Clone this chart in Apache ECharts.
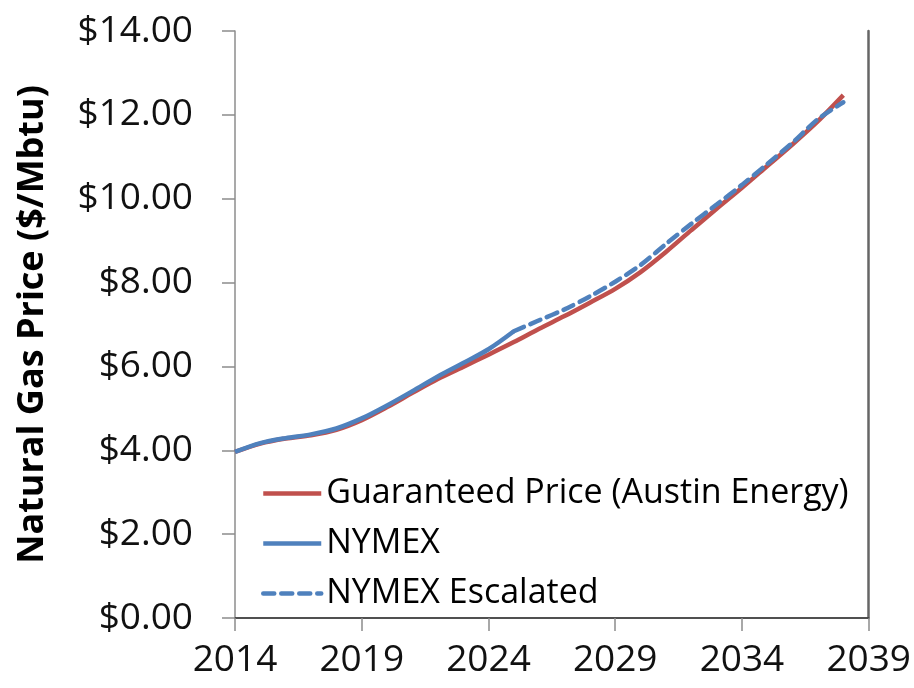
<!DOCTYPE html>
<html>
<head>
<meta charset="utf-8">
<title>Natural Gas Price</title>
<script src="https://cdn.jsdelivr.net/npm/echarts@6/dist/echarts.min.js"></script>
<style>
html, body {
  margin: 0;
  padding: 0;
  background: #fff;
}
#chart {
  width: 914px;
  height: 688px;
}
</style>
</head>
<body>
<div id="chart"></div>
<script>
// years on the x axis (2039 only carries the last tick)
const years = []
for (let y = 2014; y <= 2039; y++) years.push(String(y))

// values, $/Mbtu
const guaranteed = [3.96, 4.16, 4.28, 4.36, 4.49, 4.72, 5.03, 5.37, 5.70, 5.99, 6.28, 6.58,
  6.90, 7.20, 7.52, 7.85, 8.25, 8.73, 9.25, 9.76, 10.26, 10.78, 11.30, 11.85, 12.47]
const nymex = [3.96, 4.17, 4.29, 4.38, 4.52, 4.76, 5.07, 5.41, 5.76, 6.08, 6.41, 6.84]
const nymexEscalated = [null, null, null, null, null, null, null, null, null, null, null, 6.84,
  7.10, 7.36, 7.67, 8.02, 8.42, 8.92, 9.40, 9.86, 10.33, 10.83, 11.34, 11.90, 12.30]

const yTicks = { min: 0, max: 14, interval: 2 }

const font = 'Open Sans'
const red = '#c0504d'
const blue = '#4f81bd'

const myChart = echarts.init(document.getElementById('chart'), null, { renderer: 'canvas' })
const option = {
  animation: false,
  backgroundColor: '#fff',
  grid: {
    left: 235,
    right: 44,
    top: 31,
    bottom: 70,
    containLabel: false
  },
  legend: {
    orient: 'vertical',
    left: 256,
    top: 470,
    itemWidth: 58,
    itemHeight: 14,
    itemGap: 13,
    itemStyle: { opacity: 0 },
    lineStyle: { width: 4.5 },
    textStyle: {
      fontFamily: font,
      fontSize: 34,
      color: '#000',
      lineHeight: 37
    },
    data: ['Guaranteed Price (Austin Energy)', 'NYMEX', 'NYMEX Escalated']
  },
  xAxis: [
    {
      type: 'category',
      data: years,
      boundaryGap: false,
      axisLine: { lineStyle: { color: '#8c8c8c', width: 1.5 } },
      axisTick: { show: true, interval: 4, length: 13, lineStyle: { color: '#8c8c8c', width: 1.5 } },
      axisLabel: {
        interval: 4,
        margin: 24,
        fontFamily: font,
        fontSize: 37,
        color: '#111'
      },
      splitLine: { show: false }
    },
    {
      type: 'category',
      data: years,
      boundaryGap: false,
      position: 'top',
      axisLine: { lineStyle: { color: '#333', width: 1.5 } },
      axisTick: { show: false },
      axisLabel: { show: false },
      splitLine: { show: false }
    }
  ],
  yAxis: [
    {
      type: 'value',
      min: yTicks.min,
      max: yTicks.max,
      interval: yTicks.interval,
      name: 'Natural Gas Price ($/Mbtu)',
      nameLocation: 'middle',
      nameGap: 184,
      nameTextStyle: {
        fontFamily: font,
        fontSize: 36,
        fontWeight: 'bold',
        color: '#000'
      },
      axisLine: { show: true, lineStyle: { color: '#8c8c8c', width: 1.5 } },
      axisTick: { show: true, length: 13, lineStyle: { color: '#8c8c8c', width: 1.5 } },
      axisLabel: {
        margin: 42,
        fontFamily: font,
        fontSize: 37,
        color: '#111',
        formatter: v => '$' + v.toFixed(2)
      },
      splitLine: { show: false }
    },
    {
      type: 'value',
      min: yTicks.min,
      max: yTicks.max,
      interval: yTicks.interval,
      position: 'right',
      axisLine: { show: true, lineStyle: { color: '#666', width: 2.5 } },
      axisTick: { show: false },
      axisLabel: { show: false },
      splitLine: { show: false }
    }
  ],
  series: [
    {
      name: 'Guaranteed Price (Austin Energy)',
      type: 'line',
      data: guaranteed,
      smooth: 0.3,
      symbol: 'none',
      color: red,
      lineStyle: { color: red, width: 4.5 }
    },
    {
      name: 'NYMEX',
      type: 'line',
      data: nymex,
      smooth: 0.3,
      symbol: 'none',
      color: blue,
      lineStyle: { color: blue, width: 4.5 }
    },
    {
      name: 'NYMEX Escalated',
      type: 'line',
      data: nymexEscalated,
      smooth: 0.3,
      symbol: 'none',
      color: blue,
      lineStyle: { color: blue, width: 4.5, type: [11, 7], cap: 'round' }
    }
  ]
}
myChart.setOption(option)
window.addEventListener('resize', function() {
  myChart.resize()
})
</script>
</body>
</html>
